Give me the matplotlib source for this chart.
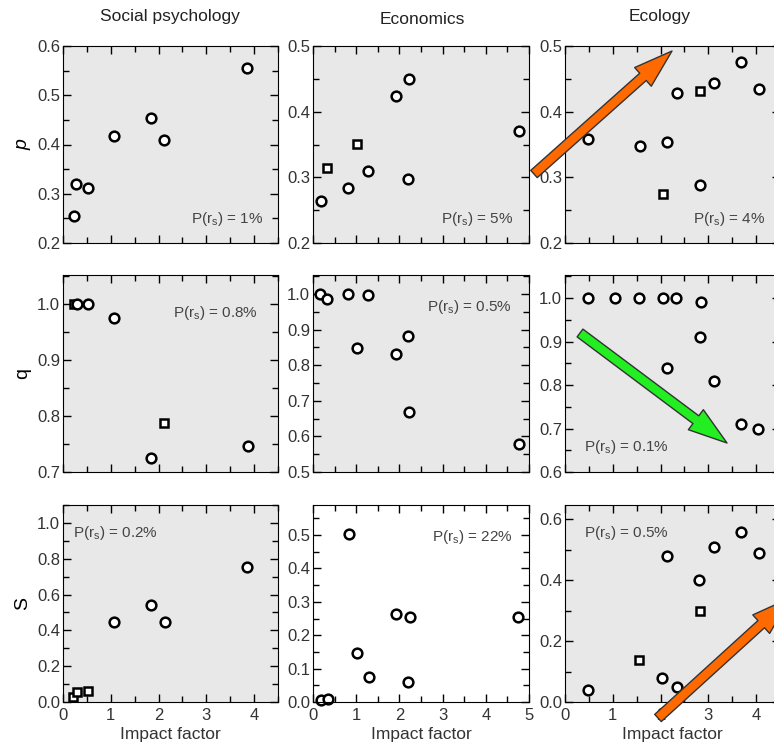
import matplotlib
matplotlib.use('Agg')
import matplotlib.pyplot as plt
from matplotlib.ticker import MultipleLocator, FormatStrFormatter
from matplotlib.patches import FancyArrowPatch

plt.rcParams['font.family'] = ['Liberation Sans', 'DejaVu Sans']
plt.rcParams['mathtext.default'] = 'regular'

W, H = 774, 748

titles = ['Social psychology', 'Economics', 'Ecology']
ylabels = ['p', 'q', 'S']

# impact factor (x) and value (y) per panel; 's' = square marker, 'o' = circle
soc_p_x = [0.22, 0.28, 0.52, 1.06, 1.85, 2.11, 3.85]
soc_p_y = [0.255, 0.320, 0.311, 0.418, 0.454, 0.409, 0.555]
soc_p_m = ['o', 'o', 'o', 'o', 'o', 'o', 'o']

soc_q_x = [0.22, 0.29, 0.52, 1.06, 1.84, 2.12, 3.87]
soc_q_y = [1.0, 1.0, 1.0, 0.976, 0.725, 0.788, 0.746]
soc_q_m = ['s', 'o', 'o', 'o', 'o', 's', 'o']

soc_s_x = [0.21, 0.29, 0.52, 1.06, 1.84, 2.13, 3.85]
soc_s_y = [0.03, 0.054, 0.063, 0.445, 0.544, 0.445, 0.754]
soc_s_m = ['s', 's', 's', 'o', 'o', 'o', 'o']

eco_p_x = [0.18, 0.33, 0.82, 1.01, 1.28, 1.92, 2.22, 2.19, 4.77]
eco_p_y = [0.264, 0.314, 0.284, 0.351, 0.310, 0.424, 0.450, 0.298, 0.371]
eco_p_m = ['o', 's', 'o', 's', 'o', 'o', 'o', 'o', 'o']

eco_q_x = [0.17, 0.33, 0.82, 1.27, 1.02, 1.92, 2.20, 2.22, 4.77]
eco_q_y = [1.0, 0.986, 1.0, 0.997, 0.848, 0.832, 0.881, 0.669, 0.58]
eco_q_m = ['o'] * 9

eco_s_x = [0.18, 0.34, 0.84, 1.03, 1.30, 1.93, 2.24, 2.20, 4.74]
eco_s_y = [0.005, 0.008, 0.502, 0.146, 0.076, 0.264, 0.254, 0.061, 0.256]
eco_s_m = ['o'] * 9

ecl_p_x = [0.49, 1.56, 2.05, 2.14, 2.35, 2.82, 2.83, 3.11, 3.69, 4.05]
ecl_p_y = [0.358, 0.347, 0.274, 0.354, 0.429, 0.431, 0.289, 0.443, 0.476, 0.434]
ecl_p_m = ['o', 'o', 's', 'o', 'o', 's', 'o', 'o', 'o', 'o']

ecl_q_x = [0.49, 1.05, 1.55, 2.05, 2.33, 2.84, 2.82, 2.14, 3.12, 3.69, 4.03]
ecl_q_y = [1.0, 1.0, 1.0, 1.0, 1.0, 0.992, 0.91, 0.84, 0.809, 0.711, 0.698]
ecl_q_m = ['o'] * 11

ecl_s_x = [0.49, 1.55, 2.03, 2.13, 2.34, 2.81, 2.83, 3.12, 3.69, 4.06]
ecl_s_y = [0.038, 0.139, 0.079, 0.479, 0.049, 0.399, 0.298, 0.508, 0.559, 0.488]
ecl_s_m = ['o', 's', 'o', 'o', 'o', 'o', 's', 'o', 'o', 'o']

panels = [
    [(soc_p_x, soc_p_y, soc_p_m), (eco_p_x, eco_p_y, eco_p_m), (ecl_p_x, ecl_p_y, ecl_p_m)],
    [(soc_q_x, soc_q_y, soc_q_m), (eco_q_x, eco_q_y, eco_q_m), (ecl_q_x, ecl_q_y, ecl_q_m)],
    [(soc_s_x, soc_s_y, soc_s_m), (eco_s_x, eco_s_y, eco_s_m), (ecl_s_x, ecl_s_y, ecl_s_m)],
]

p_labels = [['1%', '5%', '4%'], ['0.8%', '0.5%', '0.1%'], ['0.2%', '22%', '0.5%']]

xlims = [4.5, 5.0, 4.5]
ylims = [[(0.2, 0.6), (0.2, 0.5), (0.2, 0.5)],
         [(0.7, 1.052), (0.5, 1.053), (0.6, 1.053)],
         [(0.0, 1.1), (0.0, 0.59), (0.0, 0.646)]]
ymajor = [[0.1, 0.1, 0.1], [0.1, 0.1, 0.1], [0.2, 0.1, 0.2]]

# layout in pixels
col_left = [63, 313, 565]
col_w = [215, 216, 215]
row_top = [46, 275, 505]
row_h = 197

# annotation placement (axes fraction, alignment)
ann_pos = [[(0.93, 0.12, 'right'), (0.926, 0.12, 'right'), (0.93, 0.12, 'right')],
           [(0.907, 0.807, 'right'), (0.92, 0.84, 'right'), (0.088, 0.127, 'left')],
           [(0.047, 0.858, 'left'), (0.926, 0.837, 'right'), (0.088, 0.858, 'left')]]

fig = plt.figure(figsize=(W / 100, H / 100), dpi=100)

for r in range(3):
    for c in range(3):
        rect = [col_left[c] / W, 1 - (row_top[r] + row_h) / H, col_w[c] / W, row_h / H]
        ax = fig.add_axes(rect)
        if not (r == 2 and c == 1):
            ax.set_facecolor('#e8e8e8')
        xs, ys, ms = panels[r][c]
        for x, y, m in zip(xs, ys, ms):
            ax.plot(x, y, m, ms=7 if m == 'o' else 6.2, mfc='white', mec='black',
                    mew=1.8, clip_on=False)
        ax.set_xlim(0, xlims[c])
        ax.set_ylim(*ylims[r][c])
        ax.xaxis.set_major_locator(MultipleLocator(1))
        ax.xaxis.set_minor_locator(MultipleLocator(0.5))
        ax.yaxis.set_major_locator(MultipleLocator(ymajor[r][c]))
        ax.yaxis.set_minor_locator(MultipleLocator(ymajor[r][c] / 2))
        ax.tick_params(which='both', direction='in', top=True, right=True,
                       labelsize=12, labelcolor='#333333', width=1)
        ax.tick_params(which='major', length=6, pad=2)
        ax.tick_params(which='minor', length=4)
        ax.tick_params(axis='x', which='major', pad=4)
        if r < 2:
            ax.set_xticklabels([])
        else:
            ax.set_xlabel('Impact factor', fontsize=12.5, color='#333333', labelpad=3)
        ax.yaxis.set_major_formatter(FormatStrFormatter('%.1f'))
        if c == 0:
            ax.set_ylabel(ylabels[r], fontsize=14, style='italic' if r == 0 else 'normal',
                          labelpad=4)
        px, py, ha = ann_pos[r][c]
        ax.text(px, py, 'P(r$_s$) = ' + p_labels[r][c], transform=ax.transAxes,
                ha=ha, va='center', fontsize=11, color='#444444')

# column titles
fig.text(170 / W, 1 - 17 / H, titles[0], ha='center', va='center', fontsize=12.5, color='#222222')
fig.text(422 / W, 1 - 20 / H, titles[1], ha='center', va='center', fontsize=12.5, color='#222222')
fig.text(660 / W, 1 - 17 / H, titles[2], ha='center', va='center', fontsize=12.5, color='#222222')


def big_arrow(x0, y0, x1, y1, color):
    a = FancyArrowPatch((x0 / W, 1 - y0 / H), (x1 / W, 1 - y1 / H),
                        transform=fig.transFigure,
                        arrowstyle='simple,head_width=18,head_length=28,tail_width=7',
                        mutation_scale=1, facecolor=color, edgecolor='#333333',
                        linewidth=1, zorder=10, shrinkA=0, shrinkB=0, clip_on=False)
    fig.patches.append(a)


big_arrow(534, 174, 672, 51, '#ff6a00')
big_arrow(580, 333, 727, 443, '#22ee22')
big_arrow(658, 718, 790, 598, '#ff6a00')

fig.savefig('out.png', dpi=100)
